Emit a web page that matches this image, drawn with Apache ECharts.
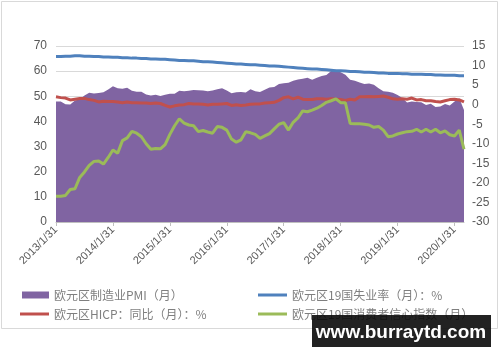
<!DOCTYPE html>
<html><head><meta charset="utf-8">
<script src="https://cdn.jsdelivr.net/npm/echarts@6/dist/echarts.min.js"></script>
<style>html,body{margin:0;padding:0;background:#fff}#c{width:500px;height:362px}</style>
</head><body><div id="c"></div>
<script>
// Month-end dates 2013/1/31 .. 2020/3/31
const categories = [];
for (let y = 2013; y <= 2020; y++) {
  for (let m = 1; m <= 12; m++) {
    if (y === 2020 && m > 3) break;
    const d = new Date(y, m, 0).getDate();
    categories.push(y + '/' + m + '/' + d);
  }
}
const seriesNames = ['欧元区制造业PMI（月）', '欧元区19国失业率（月）：%', '欧元区HICP：同比（月）：%', '欧元区19国消费者信心指数（月）'];
const pmi = [47.9,47.9,46.8,46.7,48.3,48.8,50.3,51.4,51.1,51.3,51.6,52.7,
  54.0,53.2,53.0,53.4,52.2,51.8,51.8,50.7,50.3,50.6,50.1,50.6,
  51.0,51.0,52.2,52.0,52.2,52.5,52.4,52.3,52.0,52.3,52.8,53.2,
  52.3,51.2,51.6,51.7,51.5,52.8,52.0,51.7,52.6,53.5,53.7,54.9,
  55.2,55.4,56.2,56.7,57.0,57.4,56.6,57.4,58.1,58.5,60.1,60.6,
  59.6,58.6,56.6,56.2,55.5,54.9,55.1,54.6,53.2,52.0,51.8,51.4,
  50.5,49.3,47.5,47.9,47.7,47.6,46.5,47.0,45.7,45.9,46.9,46.3,
  47.9,49.2,44.5];
const unemployment = [12.3,12.3,12.4,12.4,12.5,12.5,12.4,12.4,12.3,12.3,12.2,12.2,
  12.1,12.1,12.0,12.0,11.9,11.9,11.8,11.8,11.7,11.7,11.6,11.6,
  11.5,11.4,11.3,11.3,11.2,11.2,11.1,11.0,11.0,10.9,10.8,10.7,
  10.6,10.5,10.4,10.4,10.3,10.2,10.2,10.1,10.0,9.9,9.9,9.8,
  9.7,9.6,9.5,9.4,9.3,9.2,9.1,9.1,9.0,8.9,8.8,8.7,
  8.7,8.6,8.5,8.5,8.4,8.3,8.3,8.2,8.1,8.1,8.0,8.0,
  8.0,7.9,7.9,7.8,7.8,7.8,7.7,7.7,7.6,7.6,7.5,7.5,
  7.5,7.4,7.4];
const hicp = [2.0,1.8,1.7,1.2,1.4,1.6,1.6,1.3,1.1,0.7,0.9,0.8,
  0.8,0.7,0.5,0.7,0.5,0.5,0.4,0.4,0.3,0.4,0.3,-0.2,
  -0.6,-0.3,-0.1,0.0,0.3,0.2,0.2,0.1,-0.1,0.1,0.1,0.2,
  0.3,-0.2,0.0,-0.2,-0.1,0.1,0.2,0.2,0.4,0.5,0.6,1.1,
  1.8,2.0,1.5,1.9,1.4,1.3,1.3,1.5,1.5,1.4,1.5,1.4,
  1.3,1.1,1.4,1.2,2.0,2.0,2.1,2.0,2.1,2.2,1.9,1.5,
  1.4,1.5,1.4,1.7,1.2,1.3,1.0,1.0,0.8,0.7,1.0,1.3,
  1.4,1.2,0.7];
const confidence = [-23.4,-23.4,-23.2,-21.7,-21.5,-18.6,-17.2,-15.5,-14.5,-14.4,-15.2,-13.5,
  -11.6,-12.4,-9.2,-8.5,-6.8,-7.3,-8.2,-10.0,-11.4,-11.2,-11.3,-10.2,
  -7.6,-5.4,-3.6,-4.7,-5.2,-5.4,-6.9,-6.6,-7.0,-7.3,-5.6,-5.8,
  -6.5,-8.8,-9.6,-9.0,-6.9,-7.2,-7.6,-8.6,-8.0,-7.4,-6.2,-5.0,
  -4.6,-6.5,-4.5,-3.4,-1.6,-1.8,-1.4,-0.9,-0.2,0.6,1.0,1.5,
  0.5,0.5,-4.8,-4.9,-4.9,-5.0,-5.2,-5.8,-5.6,-6.5,-8.2,-8.0,
  -7.5,-7.2,-6.9,-6.8,-6.3,-7.0,-6.3,-7.0,-6.3,-7.2,-6.7,-7.7,
  -8.0,-6.5,-11.4];
const leftTicks = {min: 0, max: 70, interval: 10};
const rightTicks = {min: -30, max: 15, interval: 5};

const colors = ['#8064a2', '#4f81bd', '#c0504d', '#9bbb59'];
const txt = '#595959';
const font = 'Liberation Sans, Noto Sans CJK SC, sans-serif';
const legendText = {color: '#7f7f7f', fontSize: 12, fontFamily: 'Noto Sans CJK SC, sans-serif'};
function lg(name, left, top, icon, w, h) {
  return {data: [{name: name, icon: icon}], left: left, top: top, itemWidth: w, itemHeight: h,
    selectedMode: false, textStyle: legendText, padding: 0, itemGap: 0};
}
const chart = echarts.init(document.getElementById('c'), null, {renderer: 'canvas'});
chart.setOption({
  animation: false,
  backgroundColor: '#fff',
  grid: {left: 56, right: 36, top: 46, bottom: 140, containLabel: false},
  legend: [
    lg(seriesNames[0], 22, 289, 'rect', 27, 7),
    lg(seriesNames[1], 258, 289, 'rect', 29, 3),
    lg(seriesNames[2], 20, 308, 'rect', 29, 3),
    lg(seriesNames[3], 258, 308, 'rect', 29, 3)
  ],
  xAxis: {
    type: 'category', data: categories, boundaryGap: false,
    axisLine: {lineStyle: {color: '#bfbfbf', width: 1}},
    axisTick: {show: true, interval: 11, length: 4, lineStyle: {color: '#bfbfbf'}},
    axisLabel: {interval: 11, rotate: 45, color: txt, fontSize: 11, fontFamily: font, margin: 6}
  },
  yAxis: [
    {type: 'value', min: leftTicks.min, max: leftTicks.max, interval: leftTicks.interval,
     axisLine: {show: false}, axisTick: {show: false},
     splitLine: {lineStyle: {color: '#d9d9d9', width: 1}},
     axisLabel: {color: txt, fontSize: 12, fontFamily: font, margin: 9}},
    {type: 'value', min: rightTicks.min, max: rightTicks.max, interval: rightTicks.interval, position: 'right',
     axisLine: {show: false}, axisTick: {show: false}, splitLine: {show: false},
     axisLabel: {color: txt, fontSize: 12, fontFamily: font, margin: 8}}
  ],
  series: [
    {name: seriesNames[0], type: 'line', yAxisIndex: 0, data: pmi, symbol: 'none',
     lineStyle: {width: 0, color: colors[0]}, itemStyle: {color: colors[0]},
     areaStyle: {color: colors[0], opacity: 1}, z: 1},
    {name: seriesNames[1], type: 'line', yAxisIndex: 1, data: unemployment, symbol: 'none',
     lineStyle: {width: 3, color: colors[1]}, itemStyle: {color: colors[1]}, z: 3},
    {name: seriesNames[2], type: 'line', yAxisIndex: 1, data: hicp, symbol: 'none',
     lineStyle: {width: 3, color: colors[2]}, itemStyle: {color: colors[2]}, z: 3},
    {name: seriesNames[3], type: 'line', yAxisIndex: 1, data: confidence, symbol: 'none',
     lineStyle: {width: 3, color: colors[3]}, itemStyle: {color: colors[3]}, z: 3}
  ],
  graphic: [
    {type: 'rect', shape: {x: 1.5, y: 1.5, width: 496, height: 327}, style: {fill: 'none', stroke: '#d9d9d9', lineWidth: 1}, z: -1},
    {type: 'rect', shape: {x: 312, y: 315, width: 179, height: 32}, style: {fill: 'rgba(10,10,10,0.9)'}, z: 100},
    {type: 'text', x: 401, y: 333, style: {text: 'www.burraytd.com', fill: '#fff', font: 'bold 19px Liberation Sans, sans-serif', textAlign: 'center', textVerticalAlign: 'middle'}, z: 101}
  ]
});
</script></body></html>
